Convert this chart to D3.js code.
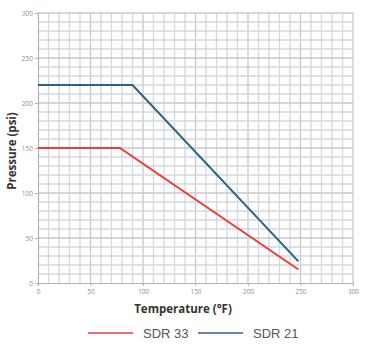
<!DOCTYPE html>
<html>
<head>
<meta charset="utf-8">
<script src="https://cdn.jsdelivr.net/npm/d3@7"></script>
<style>
  body { margin: 0; background: #fff; }
  svg { display: block; }
</style>
</head>
<body>
<script>
// series values: [temperature °F, pressure psi]
const sdr33 = [[0, 150], [78, 150], [248, 15]];
const sdr21 = [[0, 220], [90, 220], [248, 24]];
const xTicks = [0, 50, 100, 150, 200, 250, 300];
const yTicks = [0, 50, 100, 150, 200, 250, 300];
const seriesNames = ["SDR 33", "SDR 21"];

const w = 366;
const h = 353;
const plotLeft = 38, plotRight = 353, plotTop = 13, plotBottom = 283;

const xScale = d3.scaleLinear().domain([0, 300]).range([plotLeft, plotRight]);
const yScale = d3.scaleLinear().domain([0, 300]).range([plotBottom, plotTop]);

const svg = d3.select("body")
              .append("svg")
              .attr("width", w)
              .attr("height", h);

// grid every 10 units
const grid = svg.append("g");
grid.selectAll("line.vx")
  .data(d3.range(10, 301, 10))
  .enter()
  .append("line")
  .attr("x1", d => xScale(d))
  .attr("x2", d => xScale(d))
  .attr("y1", plotTop)
  .attr("y2", plotBottom)
  .attr("stroke", d => d % 50 === 0 ? "#c5cad1" : "#d3d7de")
  .attr("stroke-width", 1.3);

grid.selectAll("line.hy")
  .data(d3.range(10, 301, 10))
  .enter()
  .append("line")
  .attr("x1", plotLeft)
  .attr("x2", plotRight)
  .attr("y1", d => yScale(d))
  .attr("y2", d => yScale(d))
  .attr("stroke", d => d % 50 === 0 ? "#c5cad1" : "#d3d7de")
  .attr("stroke-width", 1.3);

const xAxis = d3.axisBottom(xScale).tickValues(xTicks).tickSize(3).tickPadding(3);
const yAxis = d3.axisLeft(yScale).tickValues(yTicks).tickSize(3).tickPadding(2);

const gx = svg.append("g")
  .attr("transform", "translate(0," + plotBottom + ")")
  .call(xAxis);
const gy = svg.append("g")
  .attr("transform", "translate(" + plotLeft + ",0)")
  .call(yAxis);

[gx, gy].forEach(g => {
  g.select(".domain").attr("stroke", "#aeb3b9").attr("stroke-width", 1.2);
  g.selectAll(".tick line").attr("stroke", "#aeb3b9");
  g.selectAll(".tick text")
    .attr("fill", "#8f8f8f")
    .style("font-family", "'Open Sans', sans-serif")
    .style("font-size", "6.5px");
});

// lines
const line = d3.line()
  .x(d => xScale(d[0]))
  .y(d => yScale(d[1]));

svg.append("path")
  .datum(sdr33)
  .attr("d", line)
  .attr("fill", "none")
  .attr("stroke", "#ee3b3b")
  .attr("stroke-width", 2);

svg.append("path")
  .datum(sdr21)
  .attr("d", line)
  .attr("fill", "none")
  .attr("stroke", "#2e6184")
  .attr("stroke-width", 2);

// axis titles
svg.append("text")
  .attr("x", 183)
  .attr("y", 313)
  .attr("text-anchor", "middle")
  .attr("fill", "#333")
  .style("font-family", "'Open Sans', sans-serif")
  .style("font-weight", "bold")
  .style("font-size", "11.5px")
  .text("Temperature (°F)");

svg.append("text")
  .attr("transform", "translate(16,151) rotate(-90)")
  .attr("text-anchor", "middle")
  .attr("fill", "#333")
  .style("font-family", "'Open Sans', sans-serif")
  .style("font-weight", "bold")
  .style("font-size", "11.5px")
  .text("Pressure (psi)");

// legend
const legendColors = ["#ee3b3b", "#3d5a9a"];
const legendX = [88, 198];
const legend = svg.selectAll("g.legend")
  .data(seriesNames)
  .enter()
  .append("g")
  .attr("transform", (d, i) => "translate(" + legendX[i] + ",333)");

legend.append("line")
  .attr("x1", 0)
  .attr("x2", 45)
  .attr("stroke", (d, i) => legendColors[i])
  .attr("stroke-width", 1.5);

legend.append("text")
  .attr("x", 55)
  .attr("y", 4.5)
  .attr("fill", "#555")
  .style("font-family", "'Liberation Sans', Arial, sans-serif")
  .style("font-size", "13px")
  .text(d => d);
</script>
</body>
</html>
